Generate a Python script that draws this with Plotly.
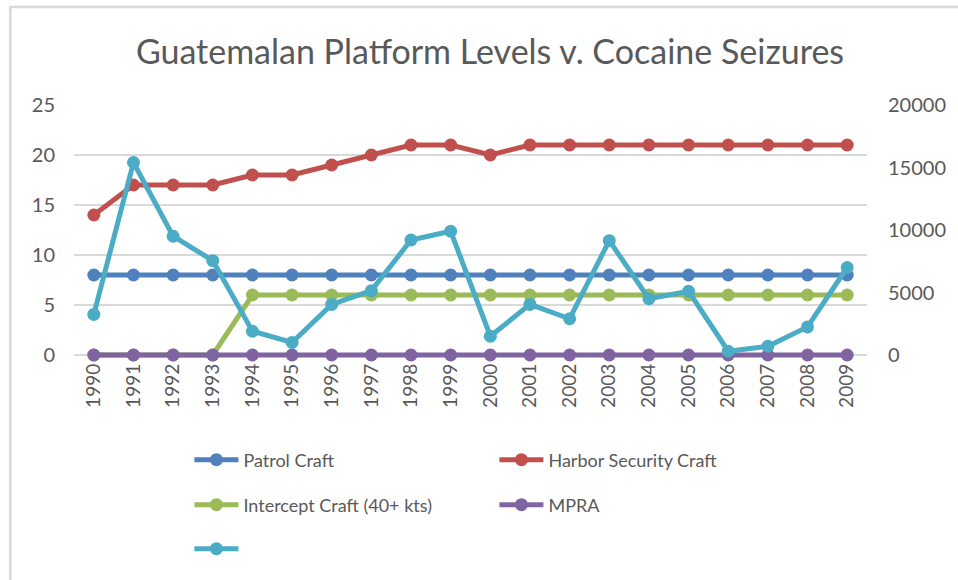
import plotly.graph_objects as go

years = [str(y) for y in range(1990, 2010)]
patrol_craft = [8] * 20
harbor_security_craft = [14, 17, 17, 17, 18, 18, 19, 20, 21, 21, 20, 21, 21, 21, 21, 21, 21, 21, 21, 21]
intercept_craft = [0, 0, 0, 0, 6, 6, 6, 6, 6, 6, 6, 6, 6, 6, 6, 6, 6, 6, 6, 6]
mpra = [0] * 20
cocaine_seizures = [3250, 15400, 9500, 7550, 1900, 1000, 4050, 5150, 9200, 9900,
                    1500, 4050, 2900, 9150, 4500, 5100, 300, 700, 2250, 7000]

FONT = "Lato"
GREY = "#595959"
W, H = 958, 580
# the plot area reaches 4 px below the zero line so lines at 0 are not clipped
ML, MR, MT, MB = 74, 87, 105, 221
PW, PH = W - ML - MR, H - MT - MB
Y0_PX = 355  # pixel row of the zero line


def px_x(px):
    return (px - ML) / PW


def px_y(py):
    return (H - MB - py) / PH


series = [
    ("Patrol Craft", patrol_craft, "#4F81BD", "y", "legend"),
    ("Harbor Security Craft", harbor_security_craft, "#C0504D", "y", "legend"),
    ("Intercept Craft (40+ kts)", intercept_craft, "#9BBB59", "y", "legend2"),
    ("MPRA", mpra, "#8064A2", "y", "legend2"),
    (" ", cocaine_seizures, "#4BACC6", "y2", "legend3"),
]

fig = go.Figure()
for name, vals, color, yax, leg in series:
    fig.add_trace(go.Scatter(
        x=years, y=vals, name=name, mode="lines+markers", yaxis=yax, legend=leg,
        line=dict(color=color, width=5),
        marker=dict(color=color, size=13),
        cliponaxis=False,
    ))

legend_common = dict(
    orientation="h", xanchor="left", yanchor="middle",
    font=dict(family=FONT, size=18, color=GREY),
    bgcolor="rgba(0,0,0,0)", entrywidth=246, entrywidthmode="pixels",
    itemwidth=44,
    itemclick=False, itemdoubleclick=False,
)

pad_px = H - MB - Y0_PX
y1_top, y2_top = 25, 20000
y1_pad = pad_px * y1_top / (Y0_PX - MT)
y2_pad = pad_px * y2_top / (Y0_PX - MT)

fig.update_layout(
    width=W, height=H,
    margin=dict(l=ML, r=MR, t=MT, b=MB),
    paper_bgcolor="white", plot_bgcolor="white",
    title=dict(text="Guatemalan Platform Levels v. Cocaine Seizures",
               x=490 / W, xanchor="center", y=1 - 52 / H, yanchor="middle",
               font=dict(family=FONT, size=34, color=GREY)),
    font=dict(family=FONT, color=GREY),
    xaxis=dict(type="category", range=[-0.5, 19.5], tickangle=-90,
               showgrid=False, showline=False, ticks="",
               tickfont=dict(family=FONT, size=19, color=GREY)),
    yaxis=dict(range=[-y1_pad, y1_top], tick0=0, dtick=5, showgrid=True,
               gridcolor="#d9d9d9", gridwidth=1.5, zeroline=False,
               showline=False, ticks="", ticklabelstandoff=18,
               tickfont=dict(family=FONT, size=20, color=GREY)),
    yaxis2=dict(range=[-y2_pad, y2_top], tick0=0, dtick=5000, overlaying="y",
                side="right", showgrid=False, zeroline=False, showline=False,
                ticks="", tickformat="d", ticklabelstandoff=20,
                tickfont=dict(family=FONT, size=20, color=GREY)),
    legend=dict(x=px_x(190), y=px_y(460), **legend_common),
    legend2=dict(x=px_x(190), y=px_y(505), **legend_common),
    legend3=dict(x=px_x(190), y=px_y(549), **legend_common),
    showlegend=True,
    shapes=[dict(type="path", xref="paper", yref="paper",
                 path=f"M {px_x(10)},{px_y(600)} L {px_x(10)},{px_y(7)} L {px_x(980)},{px_y(7)}",
                 line=dict(color="#d9d9d9", width=2.5), layer="below")],
)

fig.write_html("out.html")
